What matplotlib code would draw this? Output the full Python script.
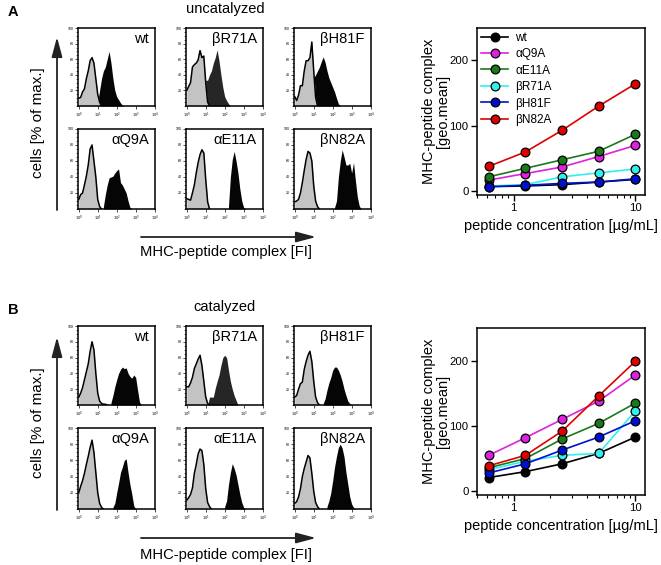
import numpy as np
import matplotlib
matplotlib.use('Agg')
import matplotlib.pyplot as plt
from matplotlib.patches import FancyArrowPatch
from matplotlib.ticker import LogLocator, MultipleLocator, NullFormatter, FixedLocator

plt.rcParams['font.family'] = ['Liberation Sans', 'DejaVu Sans']

W, H = 661, 565

# ------------------------------------------------------------------ data
panel_names = ['wt', 'βR71A', 'βH81F', 'αQ9A', 'αE11A', 'βN82A']
bin_step = 0.1  # histogram channel width in decades of FI

# histograms: (start log10 FI, heights in % of max)
unc_ctrl = {
    'wt':    (0.0, [10, 11, 18, 22, 35, 45, 58, 62, 55, 35, 15, 5, 0]),
    'βR71A': (0.0, [20, 25, 30, 50, 53, 55, 59, 71, 62, 64, 30, 5, 0]),
    'βH81F': (0.0, [12, 7, 14, 26, 26, 45, 58, 58, 62, 82, 45, 11, 0]),
    'αQ9A':  (0.0, [12, 18, 20, 30, 41, 55, 75, 80, 60, 40, 12, 3, 0]),
    'αE11A': (0.0, [13, 12, 11, 20, 30, 45, 58, 68, 74, 70, 37, 9, 0]),
    'βN82A': (0.0, [9, 10, 12, 20, 33, 48, 62, 72, 70, 60, 29, 10, 3, 0]),
}
unc_stain = {
    'wt':    (1.0, [5, 20, 35, 45, 50, 60, 70, 55, 35, 20, 12, 8, 4, 1, 0]),
    'βR71A': (0.9, [25, 33, 33, 40, 45, 55, 62, 72, 58, 40, 24, 12, 7, 3, 0]),
    'βH81F': (0.9, [30, 36, 40, 45, 50, 57, 63, 56, 45, 36, 30, 24, 18, 10, 3, 0]),
    'αQ9A':  (1.3, [3, 18, 30, 39, 40, 41, 45, 48, 50, 33, 30, 25, 20, 10, 2, 0]),
    'αE11A': (2.2, [3, 40, 62, 72, 60, 45, 25, 10, 2, 0]),
    'βN82A': (2.1, [2, 10, 40, 60, 74, 65, 55, 55, 57, 45, 58, 35, 15, 4, 0]),
}
cat_ctrl = {
    'wt':    (0.0, [10, 15, 22, 32, 42, 52, 68, 80, 70, 40, 15, 5, 2, 1, 1, 0]),
    'βR71A': (0.0, [23, 23, 28, 35, 46, 52, 58, 63, 50, 30, 10, 2, 0]),
    'βH81F': (0.0, [10, 12, 20, 27, 29, 45, 55, 63, 68, 55, 30, 10, 3, 0]),
    'αQ9A':  (0.0, [20, 28, 35, 44, 55, 65, 76, 85, 70, 45, 20, 7, 2, 0]),
    'αE11A': (0.0, [11, 14, 18, 26, 44, 55, 68, 74, 72, 55, 25, 8, 3, 0]),
    'βN82A': (0.0, [7, 9, 15, 25, 40, 50, 58, 66, 63, 44, 22, 8, 3, 0]),
}
cat_stain = {
    'wt':    (1.7, [3, 12, 23, 32, 40, 45, 48, 46, 47, 40, 36, 34, 38, 35, 19, 4, 0]),
    'βR71A': (1.1, [0, 10, 10, 10, 21, 30, 38, 50, 60, 63, 60, 44, 30, 20, 12, 6, 0]),
    'βH81F': (1.5, [2, 8, 19, 28, 35, 44, 48, 48, 44, 38, 30, 20, 12, 5, 2, 0]),
    'αQ9A':  (1.8, [2, 7, 20, 32, 45, 52, 60, 62, 45, 30, 18, 4, 0]),
    'αE11A': (2.0, [3, 10, 30, 45, 56, 50, 42, 30, 18, 8, 2, 0]),
    'βN82A': (1.7, [3, 10, 20, 35, 52, 65, 76, 80, 75, 64, 45, 30, 15, 6, 2, 0]),
}

# titration curves
conc = [0.625, 1.25, 2.5, 5, 10]
series_names = ['wt', 'αQ9A', 'αE11A', 'βR71A', 'βH81F', 'βN82A']
series_colors = ['#000000', '#e020e0', '#1a7a1a', '#30f0f0', '#0010d0', '#e00000']
unc_wt    = [7, 8, 10, 14, 18]
unc_aQ9A  = [17, 27, 37, 53, 70]
unc_aE11A = [22, 35, 48, 61, 87]
unc_bR71A = [8, 10, 22, 28, 34]
unc_bH81F = [7, 9, 12, 14, 19]
unc_bN82A = [38, 60, 93, 130, 164]
cat_wt    = [21, 30, 42, 58, 83]
cat_aQ9A  = [55, 82, 110, 138, 178]
cat_aE11A = [36, 50, 80, 104, 135]
cat_bR71A = [33, 46, 55, 58, 123]
cat_bH81F = [28, 42, 63, 83, 108]
cat_bN82A = [39, 55, 92, 146, 199]

# ------------------------------------------------------------------ figure
fig = plt.figure(figsize=(W / 100, H / 100), dpi=100)


def px_axes(x0, y0, x1, y1):
    return fig.add_axes([x0 / W, 1 - y1 / H, (x1 - x0) / W, (y1 - y0) / H])


def fx(x):
    return x / W


def fy(y):
    return 1 - y / H


def hist_panel(ax, name, ctrl, stain):
    s, h = stain[name]
    x = 10 ** (s + bin_step * np.arange(len(h)))
    dark = '#262626' if name == 'βR71A' else '#050505'
    ax.fill_between(x, h, 0, color=dark, lw=0)
    s, h = ctrl[name]
    x = 10 ** (s + bin_step * np.arange(len(h)))
    ax.fill_between(x, h, 0, color='#c3c3c3', lw=0)
    ax.plot(x, h, color='black', lw=1.1)
    ax.set_xscale('log')
    ax.set_xlim(10 ** -0.04, 10 ** 4.02)
    ax.set_ylim(0, 100)
    ax.xaxis.set_major_locator(FixedLocator([1, 10, 100, 1000, 10000]))
    ax.set_xticklabels(['$10^0$', '$10^1$', '$10^2$', '$10^3$', '$10^4$'], fontsize=2.6)
    ax.xaxis.set_minor_locator(LogLocator(base=10, subs=np.arange(2, 10)))
    ax.xaxis.set_minor_formatter(NullFormatter())
    ax.set_yticks([20, 40, 60, 80, 100])
    ax.set_yticklabels(['20', '40', '60', '80', '100'], fontsize=2.6)
    ax.yaxis.set_minor_locator(MultipleLocator(5))
    ax.tick_params(which='major', length=2.2, width=0.5, pad=1)
    ax.tick_params(which='minor', length=1.2, width=0.4)
    for sp in ax.spines.values():
        sp.set_linewidth(1.1)
    ax.text(0.92, 0.86, name, transform=ax.transAxes, ha='right', va='center',
            fontsize=10.5)


def arrow(p0, p1):
    a = FancyArrowPatch((fx(p0[0]), fy(p0[1])), (fx(p1[0]), fy(p1[1])),
                        transform=fig.transFigure,
                        arrowstyle='-|>,head_length=1.2,head_width=0.32',
                        mutation_scale=10, lw=1.3, color='#222222',
                        shrinkA=0, shrinkB=0)
    fig.add_artist(a)


def line_panel(ax, vals, legend):
    for nm, c, v in zip(series_names, series_colors, vals):
        ax.plot(conc, v, '-o', color=c, mfc=c, mec='black', ms=6.3, mew=0.9,
                lw=1.2, label=nm)
    ax.set_xscale('log')
    ax.set_xlim(0.5, 12)
    ax.set_ylim(-5, 250)
    ax.set_yticks([0, 100, 200])
    ax.set_xticks([1, 10])
    ax.set_xticklabels(['1', '10'])
    ax.xaxis.set_minor_locator(LogLocator(base=10, subs=np.arange(2, 10)))
    ax.xaxis.set_minor_formatter(NullFormatter())
    ax.tick_params(which='major', labelsize=8.2, length=4, width=1, pad=2)
    ax.tick_params(which='minor', length=2.2, width=0.8)
    for sp in ax.spines.values():
        sp.set_linewidth(1.1)
    ax.set_xlabel('peptide concentration [µg/mL]', fontsize=10.5, labelpad=4.5)
    ax.set_ylabel('MHC-peptide complex\n[geo.mean]', fontsize=10.5,
                  labelpad=0, linespacing=1.0)
    if legend:
        ax.legend(loc='upper left', frameon=False, fontsize=8.5,
                  handlelength=2.3, labelspacing=0.38, borderaxespad=0.25,
                  handletextpad=0.6, borderpad=0.1)


cols = [(78, 155), (186, 263), (294, 371)]
sections = [
    dict(label='A', title='uncatalyzed', ctrl=unc_ctrl, stain=unc_stain,
         rows=[(28, 106), (129, 209)], top=0, arrow_y=237, xl_y=252,
         ytip=37, box=(477, 27.5, 645, 194.5),
         vals=[unc_wt, unc_aQ9A, unc_aE11A, unc_bR71A, unc_bH81F, unc_bN82A],
         legend=True),
    dict(label='B', title='catalyzed', ctrl=cat_ctrl, stain=cat_stain,
         rows=[(326, 405), (428, 509)], top=298, arrow_y=538, xl_y=555,
         ytip=337, box=(477, 328, 645, 494.5),
         vals=[cat_wt, cat_aQ9A, cat_aE11A, cat_bR71A, cat_bH81F, cat_bN82A],
         legend=False),
]

for sec in sections:
    for i, name in enumerate(panel_names):
        r, c = divmod(i, 3)
        x0, x1 = cols[c]
        y0, y1 = sec['rows'][r]
        ax = px_axes(x0, y0, x1, y1)
        hist_panel(ax, name, sec['ctrl'], sec['stain'])
    t = sec['top']
    fig.text(fx(8), fy(t + 12), sec['label'], fontsize=10.5, fontweight='bold',
             ha='left', va='center')
    fig.text(fx(225), fy(t + 9), sec['title'], fontsize=10.5, ha='center',
             va='center')
    ybot = sec['rows'][1][1]
    arrow((57, ybot + 1), (57, sec['ytip']))
    fig.text(fx(38), fy((sec['ytip'] + ybot) / 2), 'cells [% of max.]',
             rotation=90, fontsize=11, ha='center', va='center')
    arrow((141, sec['arrow_y']), (316, sec['arrow_y']))
    fig.text(fx(226), fy(sec['xl_y']), 'MHC-peptide complex [FI]',
             fontsize=10.6, ha='center', va='center')
    bx = sec['box']
    lax = px_axes(*bx)
    line_panel(lax, sec['vals'], sec['legend'])

fig.savefig('out.png', dpi=100)
